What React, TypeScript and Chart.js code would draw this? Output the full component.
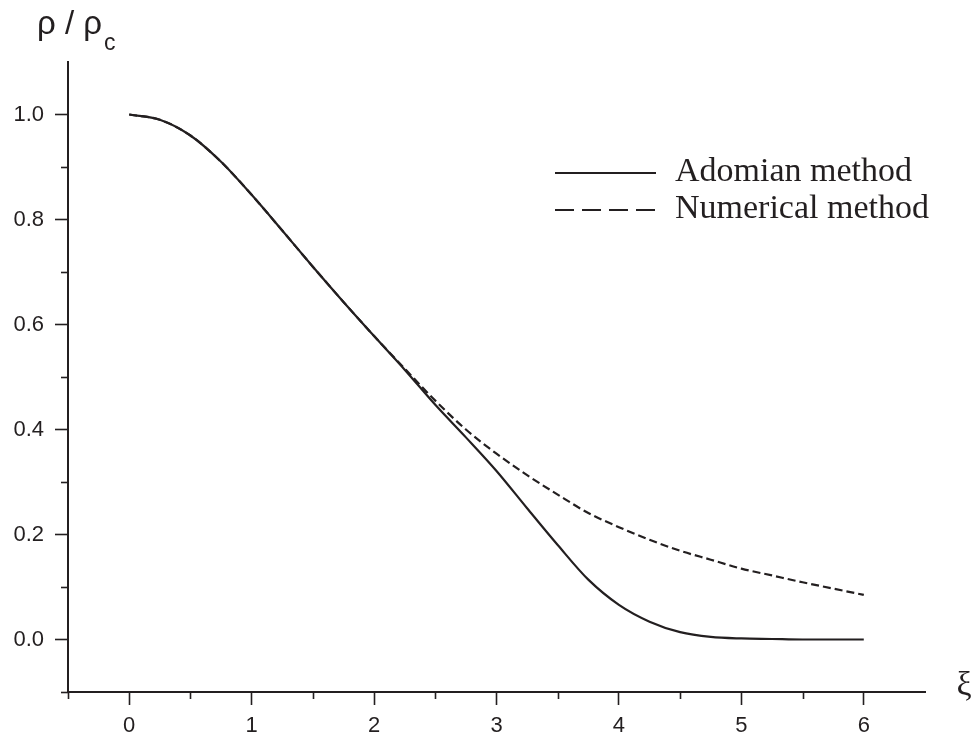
import React, { useEffect, useRef } from "react";
import { Chart, registerables } from "chart.js";

Chart.register(...registerables);

const xi = [0, 0.25, 0.5, 0.75, 1, 1.25, 1.5, 1.75, 2, 2.25, 2.5, 2.75, 3, 3.25, 3.5, 3.75, 4, 4.25, 4.5, 4.75, 5, 5.25, 5.5, 5.75, 6];
const adomian = [1.0, 0.99, 0.96, 0.91, 0.847, 0.779, 0.71, 0.643, 0.578, 0.514, 0.447, 0.385, 0.321, 0.25, 0.18, 0.114, 0.066, 0.034, 0.014, 0.005, 0.002, 0.001, 0.0, 0.0, 0.0];
const numerical = [1.0, 0.99, 0.96, 0.91, 0.847, 0.779, 0.71, 0.643, 0.578, 0.516, 0.455, 0.4, 0.354, 0.313, 0.276, 0.241, 0.214, 0.19, 0.169, 0.152, 0.135, 0.122, 0.109, 0.097, 0.085];
const seriesNames = ["Adomian method", "Numerical method"];
const xMajor = [0, 1, 2, 3, 4, 5, 6];
const xMinor = [-0.5, 0.5, 1.5, 2.5, 3.5, 4.5, 5.5];
const yMajor = [0.0, 0.2, 0.4, 0.6, 0.8, 1.0];
const yMinor = [-0.1, 0.1, 0.3, 0.5, 0.7, 0.9];

const INK = "#231f20";

const decorPlugin = {
  id: "decor",
  afterDraw(chart: any) {
    const ctx = chart.ctx;
    const xs = chart.scales.x;
    const ys = chart.scales.y;
    const area = chart.chartArea;
    ctx.save();
    ctx.strokeStyle = INK;
    ctx.lineWidth = 1.6;
    // minor ticks
    xMinor.forEach((v) => {
      const px = Math.round(xs.getPixelForValue(v)) + 0.5;
      ctx.beginPath();
      ctx.moveTo(px, area.bottom);
      ctx.lineTo(px, area.bottom + 7);
      ctx.stroke();
    });
    yMinor.forEach((v) => {
      const py = Math.round(ys.getPixelForValue(v)) + 0.5;
      ctx.beginPath();
      ctx.moveTo(area.left, py);
      ctx.lineTo(area.left - 7, py);
      ctx.stroke();
    });
    // axis titles
    ctx.fillStyle = INK;
    ctx.textBaseline = "alphabetic";
    ctx.textAlign = "left";
    ctx.font = "33px 'Liberation Sans', Arial, sans-serif";
    const main = "\u03c1 / \u03c1";
    ctx.fillText(main, 37, 34);
    const w = ctx.measureText(main).width;
    ctx.font = "23px 'Liberation Sans', Arial, sans-serif";
    ctx.fillText("c", 37 + w + 2, 50);
    ctx.font = "34px 'Liberation Serif', 'Times New Roman', serif";
    ctx.textAlign = "center";
    ctx.fillText("\u03be", 964, 695);
    // legend
    const items = chart.data.datasets;
    const lx0 = 555, lx1 = 656, tx = 675;
    const rows = [173, 210];
    ctx.font = "34px 'Liberation Serif', 'Times New Roman', serif";
    ctx.textAlign = "left";
    items.forEach((ds: any, i: number) => {
      const y = rows[i];
      ctx.lineWidth = 2;
      ctx.setLineDash(ds.borderDash && ds.borderDash.length ? [19, 8] : []);
      ctx.beginPath();
      ctx.moveTo(lx0, y);
      ctx.lineTo(lx1, y);
      ctx.stroke();
      ctx.setLineDash([]);
      ctx.fillText(ds.label, tx, y + 8);
    });
    ctx.restore();
  },
};

export default function App() {
  const ref = useRef<HTMLCanvasElement | null>(null);
  useEffect(() => {
    document.body.style.margin = "0";
    const canvas = ref.current!;
    const chart = new Chart(canvas, {
      type: "line",
      data: {
        datasets: [
          {
            label: seriesNames[0],
            data: xi.map((x, i) => ({ x, y: adomian[i] })),
            borderColor: INK,
            borderWidth: 2.2,
            pointRadius: 0,
            fill: false,
            cubicInterpolationMode: "monotone",
          },
          {
            label: seriesNames[1],
            data: xi.map((x, i) => ({ x, y: numerical[i] })),
            borderColor: INK,
            borderWidth: 2.2,
            borderDash: [8, 4],
            pointRadius: 0,
            fill: false,
            cubicInterpolationMode: "monotone",
          },
        ],
      },
      options: {
        animation: false,
        responsive: false,
        events: [],
        layout: { padding: { top: 62, right: 52, left: 0, bottom: 0 } },
        plugins: { legend: { display: false }, tooltip: { enabled: false }, title: { display: false } },
        scales: {
          x: {
            type: "linear",
            min: -0.5,
            max: 6.5,
            afterBuildTicks: (s: any) => {
              s.ticks = xMajor.map((v) => ({ value: v }));
            },
            afterFit: (s: any) => {
              s.height = 50;
            },
            grid: { drawOnChartArea: false, drawTicks: true, tickLength: 13, tickColor: INK, tickWidth: 1.6 },
            border: { display: true, color: INK, width: 2 },
            ticks: {
              color: INK,
              padding: 8,
              font: { family: "'Liberation Sans', Arial, sans-serif", size: 22 },
              callback: (v: any) => String(v),
              maxRotation: 0,
              autoSkip: false,
            },
          },
          y: {
            type: "linear",
            min: -0.1,
            max: 1.1,
            afterBuildTicks: (s: any) => {
              s.ticks = yMajor.map((v) => ({ value: v }));
            },
            afterFit: (s: any) => {
              s.width = 68;
            },
            grid: { drawOnChartArea: false, drawTicks: true, tickLength: 13, tickColor: INK, tickWidth: 1.6 },
            border: { display: true, color: INK, width: 2 },
            ticks: {
              color: INK,
              padding: 11,
              font: { family: "'Liberation Sans', Arial, sans-serif", size: 22 },
              callback: (v: any) => Number(v).toFixed(1),
              autoSkip: false,
            },
          },
        },
      },
      plugins: [decorPlugin],
    } as any);
    return () => chart.destroy();
  }, []);
  return (
    <div style={{ width: 977, height: 742, background: "#fff" }}>
      <canvas ref={ref} width={977} height={742} style={{ display: "block" }} />
    </div>
  );
}
